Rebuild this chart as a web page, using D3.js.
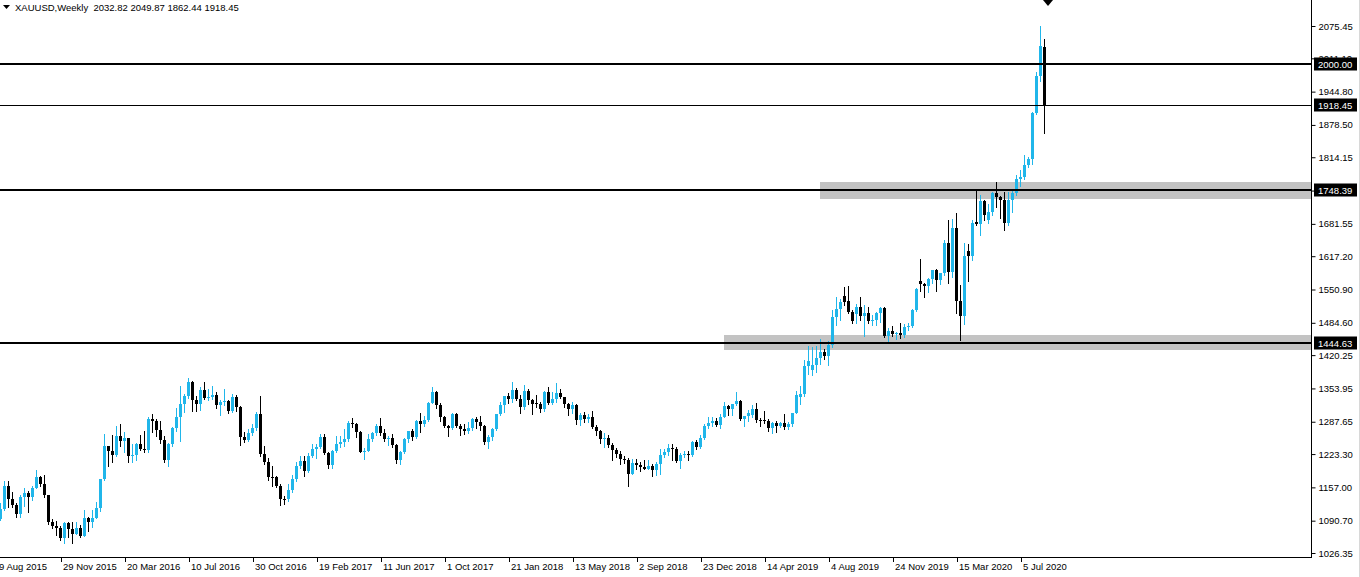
<!DOCTYPE html>
<html><head><meta charset="utf-8">
<script src="https://cdn.jsdelivr.net/npm/d3@7"></script>
<style>
html,body{margin:0;padding:0;background:#fff;overflow:hidden;}
svg{display:block;font-family:"Liberation Sans",Arial,sans-serif;}
</style></head><body>
<svg id="c" width="1360" height="577"></svg>
<script>
// ---------------- DATA ----------------
const symbol = "XAUUSD,Weekly";
const startWeek = "2015-08-09";   // first weekly bar; one bar per week
const opens = [
1094,1114,1160,1134,1122,1104,1138,1146,1137,1156,
1177,1163,1142,1088,1081,1076,1057,1086,1075,1065,
1076,1061,1097,1089,1096,1116,1173,1239,1230,1222,
1259,1249,1255,1220,1222,1243,1234,1232,1293,1290,
1272,1252,1212,1243,1275,1298,1322,1339,1366,1330,
1323,1351,1335,1336,1341,1320,1326,1328,1310,1337,
1316,1257,1251,1266,1276,1304,1224,1208,1178,1177,
1160,1134,1133,1151,1173,1200,1210,1190,1220,1234,
1238,1257,1226,1201,1229,1243,1248,1253,1285,1284,
1268,1228,1229,1254,1266,1279,1266,1254,1256,1242,
1212,1228,1254,1269,1258,1289,1284,1291,1325,1346,
1320,1297,1280,1275,1304,1280,1273,1270,1275,1294,
1288,1280,1248,1257,1274,1303,1320,1338,1332,1351,
1333,1316,1348,1330,1324,1323,1313,1347,1325,1332,
1345,1336,1323,1314,1320,1291,1302,1294,1298,1278,
1270,1253,1255,1241,1231,1223,1214,1212,1184,1206,
1201,1198,1194,1199,1192,1203,1222,1227,1235,1233,
1209,1222,1223,1222,1248,1238,1256,1280,1285,1290,
1282,1298,1318,1314,1322,1328,1294,1299,1302,1313,
1292,1291,1290,1275,1286,1279,1285,1277,1284,1305,
1337,1342,1399,1390,1400,1415,1426,1419,1440,1497,
1513,1538,1528,1506,1503,1516,1498,1505,1489,1490,
1505,1514,1459,1468,1462,1464,1460,1476,1479,1510,
1568,1562,1557,1571,1589,1570,1584,1643,1585,1674,
1529,1498,1627,1617,1686,1682,1727,1690,1705,1743,
1735,1730,1684,1730,1743,1771,1775,1798,1810,1902,
1975,2032.82];
const highs = [
1126,1170,1170,1147,1125,1141,1156,1150,1160,1191,
1179,1181,1142,1095,1090,1081,1088,1088,1088,1088,
1083,1112,1099,1111,1127,1174,1263,1240,1261,1280,
1283,1268,1256,1244,1246,1262,1270,1297,1304,1293,
1290,1260,1246,1277,1315,1358,1343,1375,1368,1338,
1357,1367,1352,1358,1346,1330,1352,1330,1343,1340,
1318,1267,1274,1284,1308,1338,1240,1216,1200,1180,
1163,1140,1163,1182,1207,1219,1220,1226,1244,1244,
1264,1263,1227,1232,1259,1260,1273,1289,1295,1286,
1270,1236,1264,1268,1283,1296,1273,1260,1263,1244,
1230,1256,1270,1274,1291,1306,1300,1326,1357,1348,
1325,1300,1282,1306,1306,1284,1283,1288,1296,1298,
1299,1281,1262,1276,1304,1326,1339,1345,1366,1355,
1340,1361,1352,1333,1341,1326,1349,1356,1347,1365,
1353,1337,1325,1327,1322,1306,1307,1303,1309,1281,
1272,1265,1262,1245,1235,1230,1219,1216,1214,1214,
1207,1212,1211,1204,1207,1233,1233,1243,1243,1237,
1226,1230,1230,1250,1252,1262,1283,1298,1297,1296,
1303,1326,1321,1323,1346,1331,1300,1311,1320,1324,
1296,1310,1293,1288,1290,1288,1304,1287,1306,1348,
1358,1411,1439,1437,1439,1452,1433,1449,1510,1535,
1531,1555,1557,1510,1523,1535,1520,1516,1500,1506,
1516,1516,1474,1478,1466,1485,1483,1484,1513,1553,
1611,1563,1573,1590,1591,1584,1649,1689,1692,1703,
1560,1644,1641,1690,1747,1739,1730,1722,1745,1765,
1737,1745,1745,1746,1779,1789,1818,1815,1904,1983,
2075,2049.87];
const lows = [
1092,1112,1117,1118,1098,1098,1120,1108,1132,1155,
1160,1137,1085,1077,1062,1052,1046,1058,1047,1064,
1058,1061,1071,1078,1096,1110,1172,1200,1208,1220,
1239,1227,1208,1208,1212,1231,1228,1228,1268,1260,
1245,1208,1199,1240,1270,1250,1308,1335,1310,1310,
1312,1333,1330,1332,1315,1302,1320,1305,1308,1309,
1241,1248,1249,1262,1272,1220,1204,1171,1160,1157,
1122,1124,1130,1147,1170,1195,1180,1188,1218,1216,
1236,1224,1195,1196,1227,1237,1240,1250,1278,1257,
1227,1214,1229,1250,1262,1262,1249,1242,1237,1205,
1204,1225,1248,1251,1256,1267,1280,1289,1324,1315,
1289,1277,1260,1273,1278,1262,1264,1265,1271,1276,
1272,1243,1236,1252,1272,1301,1307,1325,1326,1331,
1306,1314,1322,1303,1316,1307,1309,1322,1322,1326,
1334,1316,1302,1305,1284,1281,1288,1287,1276,1261,
1245,1237,1237,1211,1218,1204,1206,1160,1183,1194,
1189,1193,1194,1180,1182,1183,1217,1221,1211,1207,
1196,1218,1212,1220,1233,1236,1254,1276,1280,1280,
1276,1297,1302,1302,1320,1292,1280,1290,1298,1287,
1280,1286,1270,1266,1267,1278,1273,1273,1280,1305,
1322,1338,1382,1381,1386,1403,1412,1400,1437,1480,
1491,1520,1504,1484,1485,1490,1459,1485,1480,1480,
1487,1456,1445,1458,1452,1454,1456,1470,1477,1508,
1548,1536,1546,1564,1548,1561,1579,1564,1576,1504,
1451,1482,1568,1610,1680,1660,1690,1683,1700,1716,
1693,1670,1680,1706,1740,1757,1770,1794,1800,1900,
1965,1862.44];
const closes = [
1114,1160,1134,1122,1104,1138,1146,1137,1156,1177,
1163,1142,1088,1081,1076,1057,1086,1075,1065,1076,
1061,1097,1089,1096,1116,1173,1239,1230,1222,1259,
1249,1255,1220,1222,1243,1234,1232,1293,1290,1272,
1252,1212,1243,1275,1298,1322,1339,1366,1330,1323,
1351,1335,1336,1341,1320,1326,1328,1310,1337,1316,
1257,1251,1266,1276,1304,1224,1208,1178,1177,1160,
1134,1133,1151,1173,1200,1210,1190,1220,1234,1238,
1257,1226,1201,1229,1243,1248,1253,1285,1284,1268,
1228,1229,1254,1266,1279,1266,1254,1256,1242,1212,
1228,1254,1269,1258,1289,1284,1291,1325,1346,1320,
1297,1280,1275,1304,1280,1273,1270,1275,1294,1288,
1280,1248,1257,1274,1303,1320,1338,1332,1351,1333,
1316,1348,1330,1322,1323,1313,1347,1325,1332,1345,
1336,1323,1314,1320,1291,1302,1294,1298,1278,1270,
1253,1255,1241,1231,1223,1214,1212,1184,1206,1201,
1198,1194,1199,1192,1203,1222,1227,1235,1233,1209,
1222,1223,1222,1248,1238,1256,1280,1285,1290,1282,
1298,1318,1314,1322,1328,1294,1299,1306,1313,1292,
1291,1290,1275,1286,1279,1285,1277,1284,1305,1341,
1342,1399,1409,1400,1415,1426,1419,1440,1497,1513,
1527,1527,1506,1488,1516,1498,1505,1489,1490,1505,
1514,1459,1468,1462,1464,1460,1476,1479,1510,1552,
1562,1557,1571,1589,1570,1584,1643,1585,1674,1529,
1498,1617,1617,1683,1682,1727,1700,1705,1743,1735,
1730,1684,1730,1743,1771,1775,1798,1810,1902,1975,
2035,1918.45];
// price-axis tick labels
const yTickValues = [2075.45,2011.10,1944.80,1878.50,1814.15,1747.85,1681.55,1617.20,1550.90,1484.60,1420.25,1353.95,1287.65,1223.30,1157.00,1090.70,1026.35];
// time-axis label every N bars
const xLabelEvery = 16;
// horizontal level lines and their highlighted price labels
const levelPrices = [2000.00, 1918.45, 1748.39, 1444.63];
// support / resistance zones
const zoneStarts = ["2019-07-14", "2019-01-27"];
const zoneTops = [1765.3, 1460.3];
const zoneBottoms = [1730.8, 1430.4];

// ---------------- STYLE / LAYOUT ----------------
const bullColor = "#20b6ea", bearColor = "#000000";
const plotRight = 1311, plotBottom = 557;
const levelWidths = [2, 1, 2, 2];
const fontSize = "9.5px";

const svg = d3.select("#c");
const parse = d3.utcParse("%Y-%m-%d");
const t0 = parse(startWeek);
const weeks = opens.map((_, i) => d3.utcDay.offset(t0, 7 * i));
const x = d3.scaleUtc().domain([weeks[0], weeks[weeks.length - 1]]).range([0, 4 * (weeks.length - 1)]);
const y = d3.scaleLinear().domain([1026.35, 2075.45]).range([553, 26]);
const R = v => Math.round(v);

// zones
svg.append("g").selectAll("rect").data(zoneStarts).join("rect")
  .attr("x", d => R(x(parse(d))))
  .attr("width", d => plotRight - R(x(parse(d))))
  .attr("y", (d, i) => R(y(zoneTops[i])))
  .attr("height", (d, i) => R(y(zoneBottoms[i])) - R(y(zoneTops[i])))
  .attr("fill", "#c3c3c3");

// candles
const candles = weeks.map((w, i) => ({w, o: opens[i], h: highs[i], l: lows[i], c: closes[i]}));
const cg = svg.append("g").attr("shape-rendering", "crispEdges");
cg.selectAll("rect.wick").data(candles).join("rect").attr("class", "wick")
  .attr("x", d => R(x(d.w)))
  .attr("width", 1)
  .attr("y", d => R(y(d.h)))
  .attr("height", d => Math.max(1, R(y(d.l)) - R(y(d.h)) + 1))
  .attr("fill", d => d.c >= d.o ? bullColor : bearColor);
cg.selectAll("rect.body").data(candles).join("rect").attr("class", "body")
  .attr("x", d => R(x(d.w)) - 1)
  .attr("width", 3)
  .attr("y", d => R(y(Math.max(d.o, d.c))))
  .attr("height", d => Math.max(1, R(y(Math.min(d.o, d.c))) - R(y(Math.max(d.o, d.c)))))
  .attr("fill", d => d.c >= d.o ? bullColor : bearColor);

// level lines
svg.append("g").attr("shape-rendering", "crispEdges").selectAll("rect").data(levelPrices).join("rect")
  .attr("x", 0).attr("width", plotRight)
  .attr("y", (d, i) => R(y(d)) - Math.floor(levelWidths[i] / 2))
  .attr("height", (d, i) => levelWidths[i])
  .attr("fill", "#000");

// frame
svg.append("line").attr("x1", plotRight + 0.5).attr("x2", plotRight + 0.5).attr("y1", 0).attr("y2", plotBottom + 1)
  .attr("stroke", "#000");
svg.append("line").attr("x1", 0).attr("x2", plotRight + 1).attr("y1", plotBottom + 0.5).attr("y2", plotBottom + 0.5)
  .attr("stroke", "#000");
svg.append("line").attr("x1", 1359.5).attr("x2", 1359.5).attr("y1", 0).attr("y2", 577).attr("stroke", "#d8d8d8");

// price axis
const yAxis = d3.axisRight(y).tickValues(yTickValues).tickSize(4).tickPadding(3).tickFormat(d3.format(".2f"));
const ga = svg.append("g").attr("transform", `translate(${plotRight + 0.5},0)`).call(yAxis);
ga.select(".domain").remove();
ga.selectAll("text").attr("font-size", fontSize).attr("font-family", "Liberation Sans, Arial, sans-serif").attr("fill", "#000");
ga.selectAll("line").attr("stroke", "#000");

// highlighted price labels
const hl = svg.append("g").selectAll("g").data(levelPrices).join("g")
  .attr("transform", d => `translate(${plotRight + 3},${R(y(d))})`);
hl.append("rect").attr("x", 0).attr("y", -6.5).attr("width", 43).attr("height", 13).attr("fill", "#000");
hl.append("text").attr("x", 4).attr("y", 3.5).attr("fill", "#fff").attr("font-size", fontSize)
  .text(d => d3.format(".2f")(d));

// time axis
const fmt = d3.utcFormat("%-d %b %Y");
const labelWeeks = weeks.filter((w, i) => i % xLabelEvery === 0);
const gx = svg.append("g");
gx.selectAll("line").data(labelWeeks).join("line")
  .attr("x1", d => R(x(d)) - 2.5).attr("x2", d => R(x(d)) - 2.5)
  .attr("y1", plotBottom + 1).attr("y2", plotBottom + 5).attr("stroke", "#000");
gx.selectAll("text").data(labelWeeks).join("text")
  .attr("x", d => R(x(d)) - 1).attr("y", 570)
  .attr("font-size", fontSize).attr("fill", "#000")
  .text(d => fmt(d));

// header
const last = candles[candles.length - 1];
svg.append("path").attr("d", "M3,5 L10,5 L6.5,9 Z").attr("fill", "#000");
svg.append("text").attr("x", 15).attr("y", 11).attr("font-size", fontSize).attr("fill", "#000")
  .text(`${symbol}  ${[last.o, last.h, last.l, last.c].map(d3.format(".2f")).join(" ")}`)
  .attr("xml:space", "preserve").style("white-space", "pre");

// chart-shift marker at top above the last bars
const mx = R(x(last.w)) + 4;
svg.append("path").attr("d", `M${mx - 5},0 L${mx + 5},0 L${mx},6 Z`).attr("fill", "#000");
</script>
</body></html>
